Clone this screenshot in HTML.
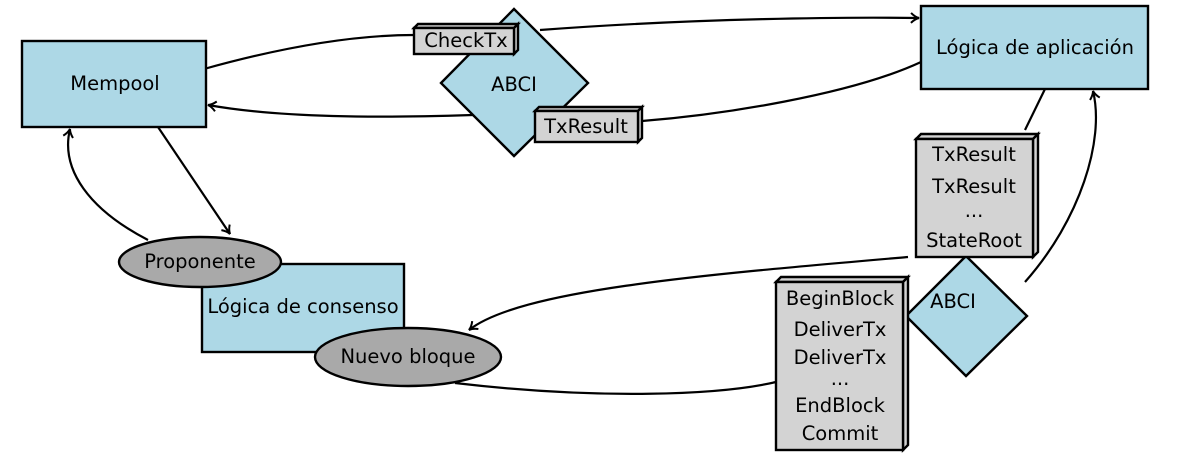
<!DOCTYPE html>
<html><head><style>body{margin:0;background:#fff}svg{display:block}text{font-family:"DejaVu Sans","Liberation Sans",sans-serif;font-size:19.5px;fill:#000}</style></head><body>
<svg width="1188" height="460" viewBox="0 0 1188 460">
<defs><marker id="a" markerWidth="12" markerHeight="12" refX="9" refY="6" orient="auto" markerUnits="userSpaceOnUse"><path d="M1,1 Q5,5 9,6 Q5,7 1,11" fill="none" stroke="#000" stroke-width="2"/></marker></defs>
<g fill="none" stroke="#000" stroke-width="2.2">
<path d="M204,69 C290,45 360,35 414,35"/>
<path d="M540,30 C700,18 850,17 919,18" marker-end="url(#a)"/>
<path d="M921,62 C850,95 720,115 642,121"/>
<path d="M473,115 C380,118 280,118 208,105" marker-end="url(#a)"/>
<path d="M158,127 L230,234" marker-end="url(#a)"/>
<path d="M148,240 C90,210 60,170 70,129" marker-end="url(#a)"/>
<path d="M1045,89 L1025,130"/>
<path d="M908,257 C700,275 520,290 469,330" marker-end="url(#a)"/>
<path d="M455,383 C600,400 720,395 776,382"/>
<path d="M1025,282 C1080,220 1105,140 1093,91" marker-end="url(#a)"/>
</g>
<g stroke="#000" stroke-width="2.4">
<rect x="22" y="41" width="184" height="86" fill="#add8e6"/>
<rect x="921" y="6" width="227" height="83" fill="#add8e6"/>
<rect x="202" y="264" width="202" height="88" fill="#add8e6"/>
<ellipse cx="200" cy="262" rx="81" ry="25" fill="#a9a9a9"/>
<ellipse cx="408" cy="357" rx="93" ry="29" fill="#a9a9a9"/>
<polygon points="514,9 588,83 514,156 441,83" fill="#add8e6"/>
<polygon points="966,256 1027,316 966,376 906,316" fill="#add8e6"/>
<g fill="#d3d3d3">
<polygon points="414,28 418,24 518,24 514,28"/><polygon points="514,28 518,24 518,50 514,54"/><rect x="414" y="28" width="100" height="26"/>
<polygon points="535,111 539,107 642,107 638,111"/><polygon points="638,111 642,107 642,138 638,142"/><rect x="535" y="111" width="103" height="31"/>
<polygon points="916,139 921,134 1038,134 1033,139"/><polygon points="1033,139 1038,134 1038,252 1033,257"/><rect x="916" y="139" width="117" height="118"/>
<polygon points="776,282 781,277 908,277 903,282"/><polygon points="903,282 908,277 908,445 903,450"/><rect x="776" y="282" width="127" height="168"/>
</g></g>
<g text-anchor="middle">
<text x="115" y="90">Mempool</text>
<text x="1035" y="54">Lógica de aplicación</text>
<text x="303" y="313">Lógica de consenso</text>
<text x="200" y="268">Proponente</text>
<text x="408" y="363">Nuevo bloque</text>
<text x="514" y="91">ABCI</text>
<text x="953" y="308">ABCI</text>
<text x="466" y="47">CheckTx</text>
<text x="586" y="133">TxResult</text>
<text x="974" y="161">TxResult</text>
<text x="974" y="193">TxResult</text>
<text x="974" y="217">...</text>
<text x="974" y="247">StateRoot</text>
<text x="840" y="305">BeginBlock</text>
<text x="840" y="336">DeliverTx</text>
<text x="840" y="364">DeliverTx</text>
<text x="840" y="385">...</text>
<text x="840" y="412">EndBlock</text>
<text x="840" y="440">Commit</text>
</g>
</svg>
</body></html>
